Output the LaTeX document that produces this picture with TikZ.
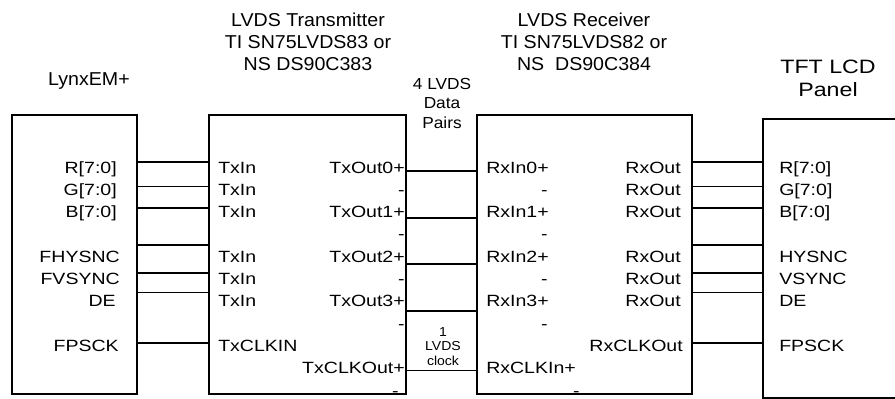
\documentclass[tikz,border=0pt]{standalone}
\usepackage{fontspec}
\setmainfont{Liberation Sans}
\newfontfamily\pinfont{Liberation Sans}[FakeStretch=1.2]
\newfontfamily\headfont{Liberation Sans}[FakeStretch=1.05]
\newfontfamily\notefont{Liberation Sans}[FakeStretch=1.08]
\usetikzlibrary{fit}

\begin{document}
\begin{tikzpicture}[
  x=0.75pt, y=-0.75pt,
  chip/.style={draw, line width=1.2pt, inner sep=0pt},
  pin/.style={inner sep=0pt, font=\pinfont\fontsize{12.2}{14}\selectfont},
  pinl/.style={pin, anchor=base west},
  pinr/.style={pin, anchor=base east},
  head/.style={align=center, inner sep=0pt, anchor=north,
               font=\headfont\fontsize{14}{16.5}\selectfont},
  note/.style={align=center, inner sep=0pt, anchor=north},
  wire/.style={line width=1.1pt},
  thinwire/.style={line width=0.7pt}
]
\useasboundingbox (0,0) rectangle (895,399);

\node[chip, fit={(12,115) (137,394)}]  (lynx) {};
\node[chip, fit={(209,115) (406,394)}] (tx)   {};
\node[chip, fit={(477,115) (692,394)}] (rx)   {};
\node[chip, fit={(763,119) (915,398)}] (tft)  {};

\node[head, anchor=base] (lynx-title) at (89,86) {LynxEM+};
\node[head] (tx-title)  at (308,12.7) {LVDS Transmitter\\TI SN75LVDS83 or\\NS DS90C383};
\node[head] (rx-title)  at (584,12.7) {LVDS Receiver\\TI SN75LVDS82 or\\NS~~DS90C384};
\node[head, font=\pinfont\fontsize{14.5}{17.3}\selectfont] (tft-title) at (828,60) {TFT LCD\\Panel};
\node[note, font=\notefont\fontsize{12}{14.7}\selectfont] (pairs) at (442,77.7) {4 LVDS\\Data\\Pairs};
\node[note, font=\notefont\fontsize{9.75}{10.9}\selectfont] (clock) at (443,327) {1\\LVDS\\clock};

\foreach \nm/\lbl/\k/\xe in {R/R[7:0]/0/117, G/G[7:0]/1/117, B/B[7:0]/2/117,
    HS/FHYSNC/4/120, VS/FVSYNC/5/120, DE/DE/6/116, CK/FPSCK/8/119}
  \node[pinr] (lynx-\nm) at (\xe,173+22.3*\k) {\lbl};

\foreach \nm/\lbl/\k in {R/TxIn/0, G/TxIn/1, B/TxIn/2, HS/TxIn/4, VS/TxIn/5, DE/TxIn/6, CK/TxCLKIN/8}
  \node[pinl] (txin-\nm) at (218,173+22.3*\k) {\lbl};

\foreach \nm/\lbl/\k/\xe in {p0/TxOut0+/0/405, n0/-/1/405, p1/TxOut1+/2/405, n1/-/3/405,
    p2/TxOut2+/4/405, n2/-/5/405, p3/TxOut3+/6/405, n3/-/7/405,
    pc/TxCLKOut+/9/405, nc/-/10/399}
  \node[pinr] (txout-\nm) at (\xe,173+22.3*\k) {\lbl};

\foreach \nm/\lbl/\k in {p0/RxIn0+/0, p1/RxIn1+/2, p2/RxIn2+/4, p3/RxIn3+/6, pc/RxCLKIn+/9}
  \node[pinl] (rxin-\nm) at (486,173+22.3*\k) {\lbl};

\foreach \nm/\lbl/\k/\xe in {n0/-/1/548, n1/-/3/548, n2/-/5/548, n3/-/7/548, nc/-/10/580}
  \node[pinr] (rxin-\nm) at (\xe,173+22.3*\k) {\lbl};

\foreach \nm/\lbl/\k/\xe in {R/RxOut/0/681, G/RxOut/1/681, B/RxOut/2/681, HS/RxOut/4/681,
    VS/RxOut/5/681, DE/RxOut/6/681, CK/RxCLKOut/8/683}
  \node[pinr] (rxout-\nm) at (\xe,173+22.3*\k) {\lbl};

\foreach \nm/\lbl/\k in {R/R[7:0]/0, G/G[7:0]/1, B/B[7:0]/2, HS/HYSNC/4, VS/VSYNC/5, DE/DE/6, CK/FPSCK/8}
  \node[pinl] (tft-\nm) at (779,173+22.3*\k) {\lbl};

\foreach \y/\w in {162/wire, 186/thinwire, 208/wire, 245/wire, 273/wire, 292/thinwire, 343/wire}{
  \draw[\w] (lynx.east |- 0,\y) -- (tx.west |- 0,\y);
  \draw[\w] (rx.east |- 0,\y) -- (tft.west |- 0,\y);
}
\foreach \y/\w in {171/wire, 218/wire, 264/wire, 311/wire, 370/thinwire}
  \draw[\w] (tx.east |- 0,\y) -- (rx.west |- 0,\y);
\end{tikzpicture}
\end{document}
